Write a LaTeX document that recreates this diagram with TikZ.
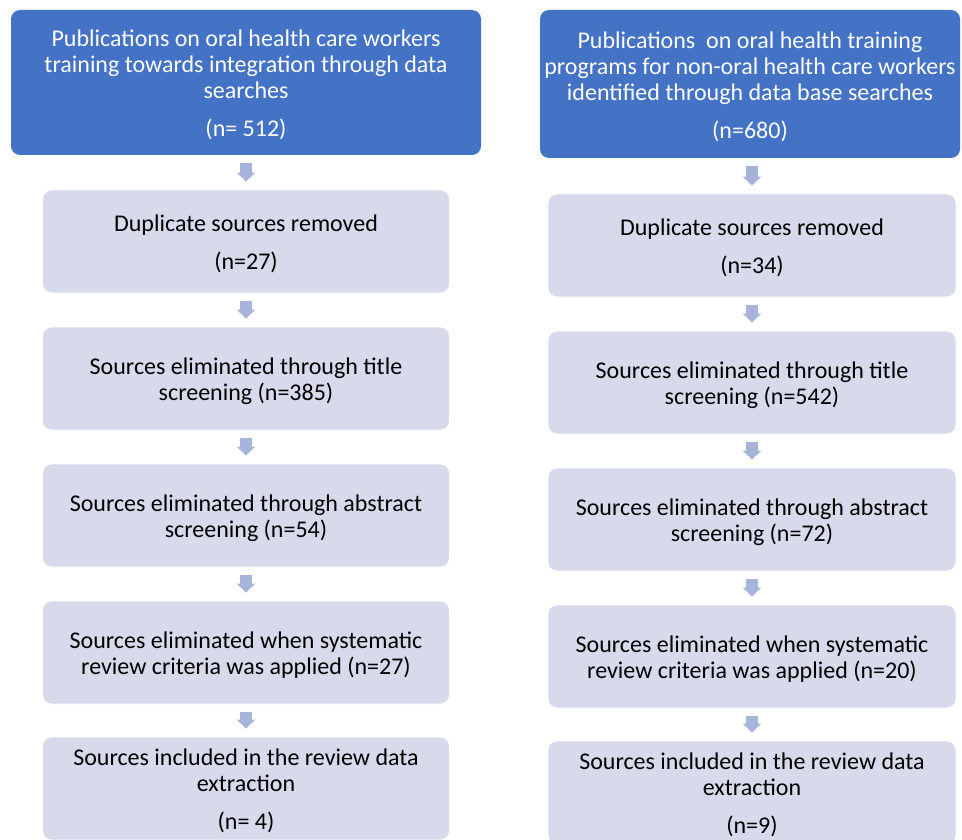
\documentclass[tikz,border=0pt]{standalone}
\usepackage{fontspec}
\setmainfont{Carlito}
\usetikzlibrary{arrows.meta}
\definecolor{topblue}{HTML}{4472C4}
\definecolor{lightbox}{HTML}{D6DAEB}
\definecolor{arrowblue}{HTML}{A6B4DB}
\begin{document}
\begin{tikzpicture}[x=1pt,y=-1pt,
  boxtext/.style={align=center, font=\fontsize{24}{26}\selectfont, inner sep=0pt, yshift=-2.5pt},
  topbox/.style={fill=topblue, rounded corners=9pt, inner sep=0pt,
    label={[boxtext, text=white]center:{#1}}},
  stagebox/.style={fill=lightbox, draw=white, line width=0.8pt, rounded corners=9pt,
    inner sep=0pt, minimum width=407pt, minimum height=103pt,
    label={[boxtext, text=black]center:{#1}}},
  flow/.style={draw=arrowblue, line width=12pt, shorten <=8pt, shorten >=8pt,
    -{Triangle[width=18pt,length=9pt]}}]
\useasboundingbox (0,0) rectangle (962,840);
\fill[white] (0,0) rectangle (962,840);
% left column
\node[topbox={Publications on oral health care workers\\training towards integration through data\\searches\\[12pt](n= 512)}, minimum width=470pt, minimum height=145pt] (L0) at (246,82.5) {};
\node[stagebox={Duplicate sources removed\\[12pt](n=27)}] (L1) at (246,241.5) {};
\node[stagebox={Sources eliminated through title\\screening (n=385)}] (L2) at (246,378.5) {};
\node[stagebox={Sources eliminated through abstract\\screening (n=54)}] (L3) at (246,515.5) {};
\node[stagebox={Sources eliminated when systematic\\review criteria was applied (n=27)}] (L4) at (246,652.5) {};
\node[stagebox={Sources included in the review data\\extraction\\[12pt](n= 4)}] (L5) at (246,788.5) {};
% right column
\node[topbox={Publications~ on oral health training\\programs for non-oral health care workers\\identified through data base searches\\[12pt](n=680)}, minimum width=420pt, minimum height=148pt] (R0) at (750,84) {};
\node[stagebox={Duplicate sources removed\\[12pt](n=34)}, minimum width=408pt] (R1) at (752,245.5) {};
\node[stagebox={Sources eliminated through title\\screening (n=542)}, minimum width=408pt] (R2) at (752,382.5) {};
\node[stagebox={Sources eliminated through abstract\\screening (n=72)}, minimum width=408pt] (R3) at (752,519.5) {};
\node[stagebox={Sources eliminated when systematic\\review criteria was applied (n=20)}, minimum width=408pt] (R4) at (752,656.5) {};
\node[stagebox={Sources included in the review data\\extraction\\[12pt](n=9)}, minimum width=408pt] (R5) at (752,792.5) {};
% arrows
\draw[flow] (L0.south) -- (L1.north);
\draw[flow] (L1.south) -- (L2.north);
\draw[flow] (L2.south) -- (L3.north);
\draw[flow] (L3.south) -- (L4.north);
\draw[flow] (L4.south) -- (L5.north);
\draw[flow] (R0.south -| R1.north) -- (R1.north);
\draw[flow] (R1.south) -- (R2.north);
\draw[flow] (R2.south) -- (R3.north);
\draw[flow] (R3.south) -- (R4.north);
\draw[flow] (R4.south) -- (R5.north);
\end{tikzpicture}
\end{document}
